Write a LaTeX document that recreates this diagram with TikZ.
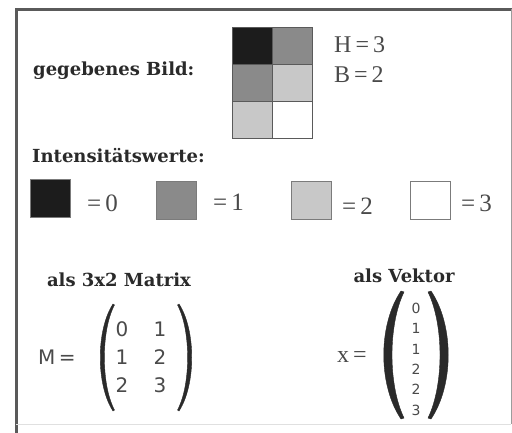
\documentclass[tikz,border=0pt]{standalone}
\usepackage{fontspec}
\setmainfont{Liberation Serif}
\newfontfamily\headfont{DejaVu Serif}
\newfontfamily\numfont{DejaVu Sans}
\definecolor{cblack}{HTML}{1C1C1C}
\definecolor{cdark}{HTML}{8A8A8A}
\definecolor{clight}{HTML}{C8C8C8}
\definecolor{txt}{HTML}{2A2A2A}
\definecolor{frame}{HTML}{5A5A5A}
\tikzset{
  head/.style={inner sep=0pt, text=txt, font=\headfont\bfseries\fontsize{18}{20}\selectfont},
  serif/.style={inner sep=0pt, text=txt!85, font=\fontsize{24}{26}\selectfont},
  legtxt/.style={inner sep=0pt, text=txt!85, font=\fontsize{25}{27}\selectfont},
  sans/.style={inner sep=0pt, text=txt!85, font=\numfont\fontsize{20}{22}\selectfont},
  vsans/.style={inner sep=0pt, text=txt!85, font=\numfont\fontsize{14}{15}\selectfont},
  cell/.style={draw=frame, line width=0.9pt, minimum width=40pt, minimum height=37.3pt, inner sep=0pt},
  legbox/.style={draw=frame!80, line width=1pt, minimum width=40pt, minimum height=38pt, inner sep=0pt},
  paren/.style={fill=txt, draw=txt, line width=0.4pt}
}
\begin{document}
\begin{tikzpicture}[x=1pt, y=-1pt]
\useasboundingbox (0,0) rectangle (512,433);
\fill[white] (0,0) rectangle (512,433);
% frame
\draw[frame, line width=3pt] (16,433) -- (16,9.5) -- (512,9.5);
\draw[frame!60, line width=1pt] (511,9.5) -- (511,424);
\draw[black!12, line width=0.8pt] (16,424) -- (511,424);

% given image
\node[head, anchor=west] (given) at (33,71) {gegebenes Bild:};
\node[cell, fill=cblack] (c11) at (252,45.7) {};
\node[cell, fill=cdark]  (c12) at (292,45.7) {};
\node[cell, fill=cdark]  (c21) at (252,83) {};
\node[cell, fill=clight] (c22) at (292,83) {};
\node[cell, fill=clight] (c31) at (252,120.3) {};
\node[cell, fill=white]  (c32) at (292,120.3) {};
\node[serif, anchor=west] (hval) at (334,45) {H\,=\,3};
\node[serif, anchor=west] (bval) at (334,75) {B\,=\,2};

% intensities
\node[head, anchor=west] (intens) at (32,156) {Intensitätswerte:};
\node[legbox, fill=cblack] (l0) at (50.5,199) {};
\node[legtxt, anchor=west] (t0) at (87,203) {=\,0};
\node[legbox, fill=cdark] (l1) at (176,200.5) {};
\node[legtxt, anchor=west] (t1) at (213,202) {=\,1};
\node[legbox, fill=clight] (l2) at (311,201) {};
\node[legtxt, anchor=west] (t2) at (342,206) {=\,2};
\node[legbox, fill=white] (l3) at (430.5,200.5) {};
\node[legtxt, anchor=west] (t3) at (461,203) {=\,3};

% matrix
\node[head] (mhead) at (119,280) {als 3x2 Matrix};
\node[sans, anchor=west] (meq) at (38,357) {M\,=};
\fill[paren] (113,304) .. controls (96,330) and (96,385) .. (113,411)
  -- (114.5,410) .. controls (101,385) and (101,330) .. (114.5,305) -- cycle;
\fill[paren] (179,304) .. controls (196,330) and (196,385) .. (179,411)
  -- (177.5,410) .. controls (191,385) and (191,330) .. (177.5,305) -- cycle;
\node[sans] (m11) at (122,329) {0};
\node[sans] (m12) at (160,329) {1};
\node[sans] (m21) at (122,357) {1};
\node[sans] (m22) at (160,357) {2};
\node[sans] (m31) at (122,385) {2};
\node[sans] (m32) at (160,385) {3};

% vector
\node[head] (vhead) at (404,276) {als Vektor};
\node[serif, anchor=west] (xeq) at (337,357) {x\,=};
\fill[paren] (401,291) .. controls (378,325) and (378,385) .. (401,419)
  -- (404,418) .. controls (388,385) and (388,325) .. (404,292) -- cycle;
\fill[paren] (431,291) .. controls (454,325) and (454,385) .. (431,419)
  -- (428,418) .. controls (444,385) and (444,325) .. (428,292) -- cycle;
\node[vsans] (v1) at (416,308) {0};
\node[vsans] (v2) at (416,328.5) {1};
\node[vsans] (v3) at (416,349) {1};
\node[vsans] (v4) at (416,369) {2};
\node[vsans] (v5) at (416,389.5) {2};
\node[vsans] (v6) at (416,410) {3};
\end{tikzpicture}
\end{document}
